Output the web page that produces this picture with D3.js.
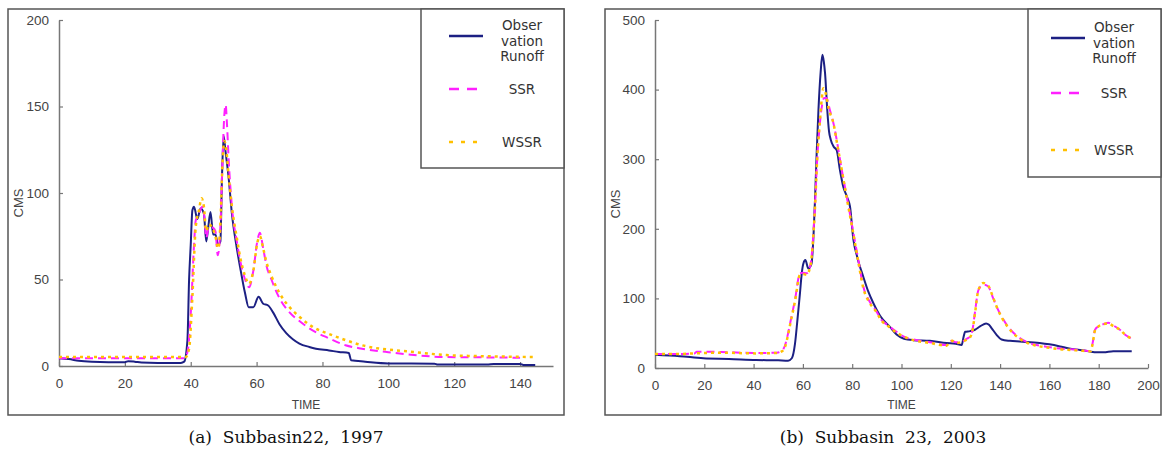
<!DOCTYPE html>
<html>
<head>
<meta charset="utf-8">
<script src="https://cdn.jsdelivr.net/npm/d3@7"></script>
<style>
  body { margin: 0; background: #fff; }
  svg text { font-family: "Liberation Sans", Arial, sans-serif; }
</style>
</head>
<body>
<div id="chart"></div>
<script>
// ---- data ----
let series_names = ["Obser\nvation\nRunoff", "SSR", "WSSR"];

// (a) Subbasin22, 1997
let a_obs_time = [0, 3, 6, 10, 20, 21, 23, 25, 30, 37, 38, 39, 39.5, 40, 40.5, 41, 42, 43, 44, 44.7, 45.3, 46, 46.8, 47.5, 48.3, 49, 49.5, 50, 50.5, 51.5, 52.5, 54, 55, 56.5, 57.6, 59, 60.6, 62, 63.5, 65, 67, 69, 71, 73, 76, 78, 82, 85, 88, 88.7, 93, 100, 114, 115, 130, 132, 140, 141, 144.6];
let a_obs_flow = [4.5, 4, 3, 2.5, 2.2, 2.8, 2.5, 2, 1.8, 1.8, 2.5, 15, 50, 70, 90, 92, 85, 91, 88, 72, 80, 89, 76, 76, 70, 72, 110, 133, 125, 109, 88, 68, 57, 42, 34, 34, 40, 36, 35, 31, 24, 19, 15.5, 13, 11, 10, 9, 8.1, 7.5, 3.3, 2.5, 1.5, 1.3, 0.8, 0.8, 1.2, 1.2, 0.6, 0.6];

let a_ssr_time = [0, 38, 39, 40, 41, 41.5, 42.5, 43.5, 44.2, 44.7, 45.5, 46.5, 47.5, 48.2, 49, 49.5, 50.2, 50.6, 51, 51.5, 52.5, 54, 55, 56.5, 57.7, 59, 60.2, 61, 62, 63, 64.5, 67, 70, 73, 77, 82, 87, 92, 97.5, 100, 107, 117, 128, 140];
let a_ssr_flow = [4.5, 4.5, 8, 30, 70, 84, 88, 92, 85, 74, 80, 80, 78, 64, 80, 110, 145, 151, 140, 120, 92, 72, 61, 50, 45.5, 55, 72, 77, 68, 58, 50, 39, 31, 26, 20.6, 16, 12, 10, 8.5, 8, 6.5, 5.2, 5, 4.8];

let a_wssr_time = [0, 38.5, 39.5, 40.5, 41.5, 42.5, 43.3, 44, 44.7, 45.5, 46.5, 47.5, 48.3, 49, 49.6, 50.2, 50.8, 51.5, 52.5, 54, 55, 56.5, 57.7, 59, 60.2, 61, 62, 63, 64.5, 67, 70, 73, 77, 82, 87, 92, 97.5, 100, 107.6, 117.7, 128, 144];
let a_wssr_flow = [5.2, 5.2, 10, 40, 80, 90, 97, 92, 78, 82, 80, 75, 68, 82, 115, 130, 125, 110, 92, 74, 63, 52, 47.5, 55, 71, 75, 68, 60, 52, 42, 34, 28.5, 22.6, 18.5, 15, 12, 10, 9.5, 8.1, 6.3, 5.7, 5.2];

// (b) Subbasin 23, 2003
let b_obs_time = [0, 10, 19.6, 30, 41, 50, 54, 55.5, 56.8, 57.8, 58.8, 59.5, 60.2, 61, 62.2, 63.5, 64.3, 64.9, 65.6, 66.3, 67.2, 67.9, 68.5, 69, 69.9, 70.6, 71.3, 72.5, 73.7, 75, 76.4, 78, 79.1, 80.5, 82, 84.5, 86.5, 88.6, 91.3, 95.3, 98, 101, 104.8, 111.5, 118.3, 122, 124.4, 125.2, 125.8, 127.8, 129.8, 132, 134.3, 135.5, 136.6, 138.5, 140.6, 144, 148, 156, 160, 164.3, 168, 172.4, 176, 179.2, 182, 185.9, 193.4];
let b_obs_flow = [19, 17, 14, 13, 11.5, 11, 10.5, 14, 35, 70, 107, 135, 150, 155, 143, 150, 190, 241, 310, 370, 425, 450, 440, 423, 370, 340, 328, 318, 313, 285, 260, 245, 232, 184, 160, 131, 110, 93, 75, 59, 48, 42, 40, 39, 36, 35, 33, 45, 52, 53, 55, 60, 64, 62, 57, 48, 41, 39, 38, 36, 34, 31, 28, 26, 24, 22.5, 22.5, 24, 24];

let b_ssr_time = [0, 10, 16, 17, 27, 41, 49.4, 51.5, 52.7, 54, 54.8, 56.8, 58.8, 60, 61.5, 63, 64.9, 65.8, 66.9, 67.8, 68.6, 69.5, 71, 72.5, 73.7, 75.5, 77.8, 80.5, 82.5, 84.5, 87, 89.9, 91.3, 95, 98, 101, 104.8, 111.5, 118.3, 119.5, 120.5, 122, 124.4, 126.5, 127.8, 128.8, 129.8, 131.2, 133.2, 135.2, 137, 138.6, 140.6, 142.7, 145, 148, 151, 154.8, 160, 164.3, 172.4, 176.7, 177.5, 178.5, 180, 181.2, 183.9, 186, 188.6, 191, 193];
let b_ssr_flow = [20, 20, 21, 23.4, 23, 21.5, 22, 25, 32, 50, 64, 98, 136, 137, 136, 147, 232, 300, 352, 378, 388, 388, 370, 350, 328, 290, 246, 194, 155, 117, 96, 81, 72, 60, 52, 45, 41, 37, 33, 38, 39, 37, 38, 42, 45, 55, 80, 112, 120, 117, 102, 88, 74, 62, 52, 43, 37, 33, 30, 28, 26, 24.4, 35, 55, 60, 62, 65, 61, 55, 47, 43];

let b_wssr_time = [0, 10, 16, 27, 41, 49.4, 51.5, 52.7, 54, 54.8, 56.8, 58.8, 60, 61.5, 63, 64.9, 65.8, 66.9, 67.6, 68.3, 69.2, 70.5, 72.5, 73.7, 75.5, 77.8, 80.5, 82.5, 84.5, 87, 89.9, 91.3, 95, 98, 101, 104.8, 111.5, 118.3, 119.5, 120.5, 122, 124.4, 126.5, 127.8, 128.8, 129.8, 131.2, 133.2, 135.2, 137, 138.6, 140.6, 142.7, 145, 148, 151, 154.8, 160, 164.3, 172.4, 176.7, 177.5, 178.5, 180, 181.2, 183.9, 186, 188.6, 191, 193];
let b_wssr_flow = [20, 20, 21, 22, 21, 21.5, 24, 30, 48, 62, 96, 134, 135, 134, 146, 230, 300, 355, 385, 402, 395, 372, 350, 326, 290, 244, 192, 152, 115, 94, 80, 71, 59, 51, 45, 40, 36, 32, 37, 39, 36, 37, 41, 44, 54, 78, 112, 122, 118, 103, 88, 73, 61, 51, 42, 36, 32, 29, 27, 25, 24, 34, 54, 60, 62, 64, 60, 55, 47, 43];

let a_x_ticks = [0, 20, 40, 60, 80, 100, 120, 140];
let a_y_ticks = [0, 50, 100, 150, 200];
let b_x_ticks = [0, 20, 40, 60, 80, 100, 120, 140, 160, 180, 200];
let b_y_ticks = [0, 100, 200, 300, 400, 500];

let captions = ["(a)  Subbasin22,  1997", "(b)  Subbasin  23,  2003"];

// ---- styling ----
let colors = {obs: "#1c2083", ssr: "#ff20ff", wssr: "#ffc000"};

let svg = d3.select("#chart").append("svg")
    .attr("width", 1163)
    .attr("height", 450);

let panels = [
    {
        box: {x: 8, y: 9, w: 556, h: 406},
        plot: {left: 59, right: 553, top: 20, bottom: 366},
        xDomain: [0, 150], yDomain: [0, 200],
        xTicks: a_x_ticks, yTicks: a_y_ticks,
        legend: {x: 421, y: 9, w: 143, h: 159, lineX: 449, textX: 522, rows: [36, 89, 142]},
        cmsX: 18,
        caption: captions[0], captionX: 286,
        lines: [
            {t: a_obs_time, q: a_obs_flow, key: "obs"},
            {t: a_ssr_time, q: a_ssr_flow, key: "ssr"},
            {t: a_wssr_time, q: a_wssr_flow, key: "wssr"}
        ]
    },
    {
        box: {x: 605, y: 9, w: 556, h: 406},
        plot: {left: 655, right: 1148, top: 20, bottom: 368},
        xDomain: [0, 200], yDomain: [0, 500],
        xTicks: b_x_ticks, yTicks: b_y_ticks,
        legend: {x: 1028, y: 9, w: 133, h: 168, lineX: 1051, textX: 1114, rows: [38, 93, 150]},
        cmsX: 615,
        caption: captions[1], captionX: 883,
        lines: [
            {t: b_obs_time, q: b_obs_flow, key: "obs"},
            {t: b_ssr_time, q: b_ssr_flow, key: "ssr"},
            {t: b_wssr_time, q: b_wssr_flow, key: "wssr"}
        ]
    }
];

let dash = {obs: null, ssr: "8,5", wssr: "3,4"};
let widths = {obs: 2, ssr: 2, wssr: 2.5};

panels.forEach((p) => {
    let g = svg.append("g");

    // outer frame
    g.append("rect")
        .attr("x", p.box.x).attr("y", p.box.y)
        .attr("width", p.box.w).attr("height", p.box.h)
        .attr("fill", "none").attr("stroke", "#555").attr("stroke-width", 1.5);

    let xScale = d3.scaleLinear().domain(p.xDomain).range([p.plot.left, p.plot.right]);
    let yScale = d3.scaleLinear().domain(p.yDomain).range([p.plot.bottom, p.plot.top]);

    // axes, ticks pointing inward
    let xAxis = d3.axisBottom(xScale).tickValues(p.xTicks).tickSize(-4).tickPadding(12).tickSizeOuter(0);
    let yAxis = d3.axisLeft(yScale).tickValues(p.yTicks).tickSize(-4).tickPadding(10).tickSizeOuter(0);

    let gx = g.append("g")
        .attr("transform", "translate(0," + p.plot.bottom + ")")
        .call(xAxis);
    let gy = g.append("g")
        .attr("transform", "translate(" + p.plot.left + ",0)")
        .call(yAxis);
    [gx, gy].forEach((ax) => {
        ax.select(".domain").attr("stroke", "#777").attr("stroke-width", 1.5);
        ax.selectAll(".tick line").attr("stroke", "#777").attr("stroke-width", 1.2);
        ax.selectAll(".tick text")
            .attr("fill", "#444")
            .style("font-size", "13.5px");
    });

    // axis titles
    g.append("text")
        .attr("transform", "translate(" + p.cmsX + "," + ((p.plot.top + p.plot.bottom) / 2 + 10) + ") rotate(-90)")
        .attr("text-anchor", "middle")
        .attr("dominant-baseline", "central")
        .attr("fill", "#444")
        .style("font-size", "13px")
        .text("CMS");
    g.append("text")
        .attr("x", (p.plot.left + p.plot.right) / 2)
        .attr("y", 409)
        .attr("text-anchor", "middle")
        .attr("fill", "#444")
        .style("font-size", "12px")
        .text("TIME");

    // series
    let line = d3.line()
        .x((d) => xScale(d[0]))
        .y((d) => yScale(d[1]))
        .curve(d3.curveMonotoneX);

    p.lines.forEach((s) => {
        let pts = s.t.map((t, i) => [t, s.q[i]]);
        g.append("path")
            .datum(pts)
            .attr("d", line)
            .attr("fill", "none")
            .attr("stroke", colors[s.key])
            .attr("stroke-width", widths[s.key])
            .attr("stroke-dasharray", dash[s.key]);
    });

    // legend
    let L = p.legend;
    g.append("rect")
        .attr("x", L.x).attr("y", L.y)
        .attr("width", L.w).attr("height", L.h)
        .attr("fill", "#fff").attr("stroke", "#555").attr("stroke-width", 1.5);

    ["obs", "ssr", "wssr"].forEach((key, i) => {
        let ry = L.rows[i];
        g.append("line")
            .attr("x1", L.lineX).attr("x2", L.lineX + 34)
            .attr("y1", ry).attr("y2", ry)
            .attr("stroke", colors[key])
            .attr("stroke-width", 2.5)
            .attr("stroke-dasharray", key === "ssr" ? "10,8" : key === "wssr" ? "4,8" : null);

        let parts = series_names[i].split("\n");
        let txt = g.append("text")
            .attr("x", L.textX)
            .attr("text-anchor", "middle")
            .attr("fill", "#333")
            .style("font-family", "'DejaVu Sans', Verdana, sans-serif")
            .style("font-size", "13.5px");
        parts.forEach((part, j) => {
            txt.append("tspan")
                .attr("x", L.textX)
                .attr("y", (parts.length > 1 ? ry - 6 : ry + 5) + j * 15.5)
                .text(part);
        });
    });

    // caption
    g.append("text")
        .attr("x", p.captionX)
        .attr("y", 443)
        .attr("text-anchor", "middle")
        .attr("fill", "#111")
        .style("font-family", "'DejaVu Serif', 'Liberation Serif', serif")
        .style("font-size", "17px")
        .style("white-space", "pre")
        .text(p.caption);
});
</script>
</body>
</html>
